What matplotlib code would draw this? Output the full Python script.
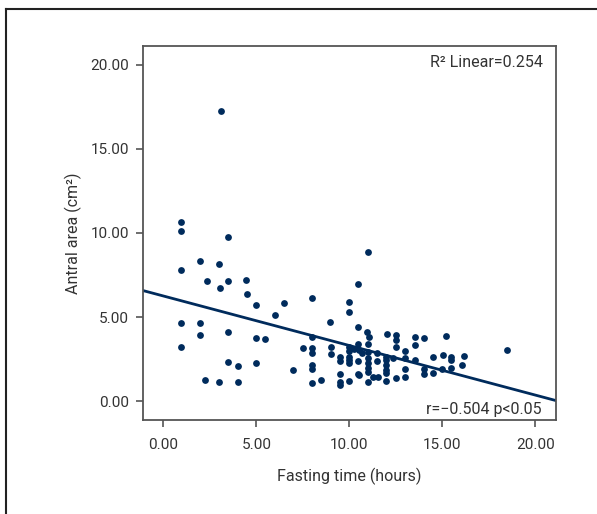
import matplotlib
matplotlib.use("Agg")
import matplotlib.pyplot as plt
from matplotlib.lines import Line2D
import numpy as np

# ── Data ──────────────────────────────────────────────────────────────────────
fasting_hours = [
    0.97, 0.97, 3.46, 1.97, 2.98, 0.97, 2.33, 3.48, 4.43, 3.03,
    4.50, 4.97, 6.49, 7.98, 5.99, 8.96, 10.0, 10.0, 10.47, 10.45,
    0.97, 1.97, 1.97, 3.46, 0.97, 4.97, 5.45, 3.48, 4.0, 4.97,
    2.21, 3.0, 4.0, 6.96, 7.51, 7.98, 7.98, 7.98, 7.98, 7.98,
    7.98, 8.46, 9.02, 9.02, 9.48, 9.48, 9.48, 9.48, 9.48, 10.0,
    10.0, 10.0, 10.0, 10.47, 10.47, 10.47, 3.09, 10.95, 11.08, 12.03,
    12.51, 12.51, 13.52, 14.0, 15.2, 18.48, 10.0, 10.0, 10.5, 10.5,
    11.0, 11.0, 11.0, 11.0, 11.0, 11.0, 11.0, 11.27, 11.54, 11.51,
    11.51, 11.99, 11.99, 11.99, 11.99, 11.99, 11.99, 12.35, 12.51, 12.51,
    12.98, 13.02, 13.02, 13.02, 13.52, 13.55, 14.0, 14.0, 14.5, 14.5,
    15.0, 15.04, 15.49, 15.49, 15.49, 16.04, 16.15, 11.0, 10.25, 10.7,
]
antral_area = [
    10.65, 10.12, 9.74, 8.34, 8.14, 7.80, 7.17, 7.17, 7.21, 6.72,
    6.36, 5.75, 5.83, 6.16, 5.12, 4.72, 5.89, 5.31, 6.95, 4.44,
    4.66, 4.66, 3.93, 4.14, 3.22, 3.77, 3.71, 2.34, 2.12, 2.27,
    1.28, 1.18, 1.18, 1.89, 3.19, 3.81, 3.19, 2.86, 2.17, 1.91,
    1.12, 1.26, 3.25, 2.82, 2.62, 2.42, 1.63, 1.18, 0.98, 1.22,
    2.30, 2.66, 3.23, 1.61, 2.42, 3.41, 17.26, 4.11, 3.85, 4.00,
    3.96, 3.65, 3.85, 3.75, 3.90, 3.04, 3.01, 2.46, 3.06, 1.57,
    3.41, 2.96, 2.56, 2.27, 1.97, 1.77, 1.18, 1.44, 1.44, 2.86,
    2.42, 2.66, 2.46, 2.17, 1.87, 1.67, 1.22, 2.60, 3.22, 1.41,
    3.00, 2.56, 1.91, 1.47, 3.35, 2.46, 1.91, 1.61, 2.66, 1.71,
    1.93, 2.76, 2.66, 2.46, 2.00, 2.17, 2.70, 8.85, 3.10, 2.90,
]

# linear fit shown in the reference
fit_intercept = 6.26
fit_slope = -0.294

x_ticks = [0, 5, 10, 15, 20]
y_ticks = [0, 5, 10, 15, 20]

# ── Style ─────────────────────────────────────────────────────────────────────
DOT = "#002b5c"
TEXT = "#333333"
SPINE = "#555555"

plt.rcParams["font.family"] = ["Roboto", "DejaVu Sans"]

fig = plt.figure(figsize=(5.97, 5.14), dpi=100)
ax = fig.add_axes([0.2395, 0.1829, 0.6913, 0.7276])

ax.scatter(fasting_hours, antral_area, s=24, color=DOT, linewidths=0, zorder=3)

xlim = (-1.1, 21.1)
xx = np.array(xlim)
ax.plot(xx, fit_intercept + fit_slope * xx, color=DOT, linewidth=2.0, zorder=2)

ax.set_xlim(*xlim)
ax.set_ylim(-1.1, 21.1)
ax.set_xticks(x_ticks)
ax.set_yticks(y_ticks)
ax.set_xticklabels([f"{t:.2f}" for t in x_ticks])
ax.set_yticklabels([f"{t:.2f}" for t in y_ticks])
ax.tick_params(direction="out", length=5, width=1.2, color=SPINE,
               labelsize=11, labelcolor=TEXT, pad=5)
ax.tick_params(axis="x", pad=8)

for side in ("top", "right", "left", "bottom"):
    ax.spines[side].set_color(SPINE)
    ax.spines[side].set_linewidth(1.3)

ax.set_xlabel("Fasting time (hours)", fontsize=11.5, color=TEXT, labelpad=11)
ax.set_ylabel("Antral area (cm\u00b2)", fontsize=11.5, color=TEXT, labelpad=6)

ax.text(0.97, 0.975, "R\u00b2 Linear=0.254", transform=ax.transAxes,
        ha="right", va="top", fontsize=11.5, color=TEXT)
ax.text(0.965, 0.008, "r=\u22120.504 p<0.05", transform=ax.transAxes,
        ha="right", va="bottom", fontsize=11.5, color=TEXT)

# outer panel frame
fig.add_artist(Line2D([6 / 597, 1.0], [1 - 9 / 514, 1 - 9 / 514],
                      transform=fig.transFigure, color="#222222", linewidth=1.5))
fig.add_artist(Line2D([6 / 597, 6 / 597], [0.0, 1 - 9 / 514],
                      transform=fig.transFigure, color="#222222", linewidth=1.5))

fig.savefig("out.png", dpi=100)
